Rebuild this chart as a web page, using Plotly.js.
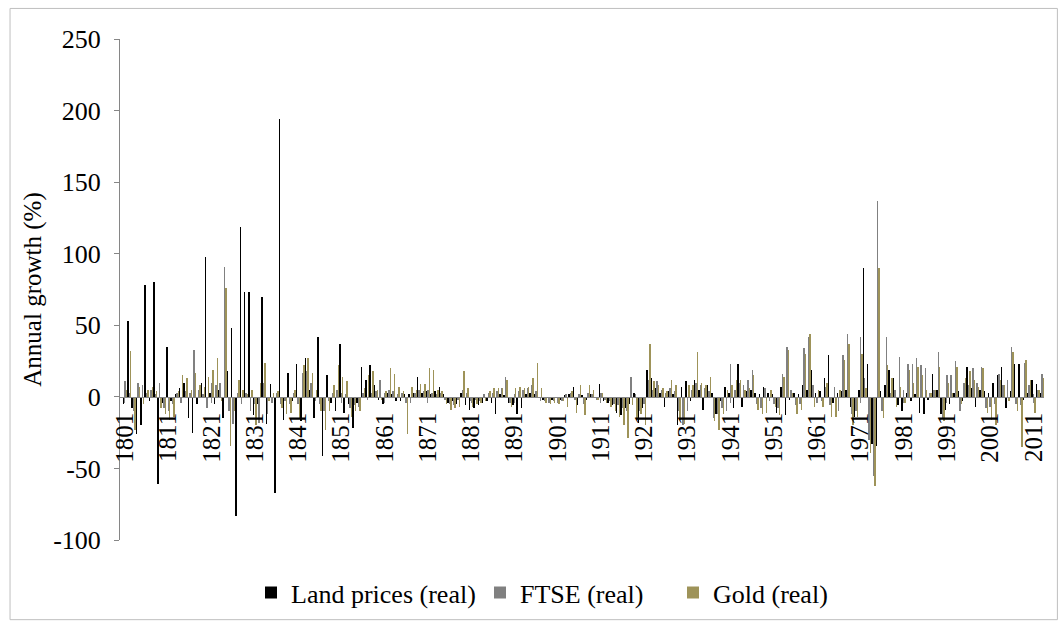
<!DOCTYPE html>
<html>
<head>
<meta charset="utf-8">
<script src="https://cdn.plot.ly/plotly-3.0.1.min.js"></script>
<style>html,body{margin:0;padding:0;background:#fff;}#chart{width:1062px;height:628px;}</style>
</head>
<body>
<div id="chart"></div>
<script>
// Years 1801..2013 (categories)
const firstYear = 1801, lastYear = 2013;
const years = [];
for (let y = firstYear; y <= lastYear; y++) years.push(y);

const tickYears = [1801,1811,1821,1831,1841,1851,1861,1871,1881,1891,1901,1911,1921,1931,1941,1951,1961,1971,1981,1991,2001,2011];
const tickLabels = ["1801","1811","1821","1831","1841","1851","1861","1871","1881","1891","1901","1911","1921","1931","1941","1951","1961","1971","1981","1991","2001","2011"];

const landPrices = [
  -5, 53, -8, -26, -20, 78, -3, 80, -61, -4,
  35, -3, 2, 6, 10, -15, -25, -5, 10, 98,
  3, -5, 5, -15, 18, 48, -83, 119, 73, 73,
  -13, -5, 70, -19, 9, -67, 194, -16, 17, -3,
  23, -17, 27, 5, -15, 42, -41, 15, -4, -10,
  37, -11, -5, -22, -4, 21, 12, 22, 8, -2,
  -5, 3, 2, -3, -3, 2, 2, 3, 14, 3,
  4, 2, 4, 7, 2, -4, -3, -5, 3, -6,
  -9, -8, -6, -4, -3, -4, -12, 2, 1, -4,
  -6, -12, -8, 2, 3, 2, -1, -2, -1, -2,
  -1, -2, 1, 2, 7, -6, 1, -2, 2, -1,
  9, -3, -4, -6, -11, -13, -8, -5, 3, -18,
  -8, 19, 13, 6, 3, -7, 4, 2, -20, 7,
  11, -3, 12, 5, -9, 8, 3, -12, -3, 7,
  3, -8, 23, -7, 4, 5, 3, 2, 7, 3,
  2, -11, 7, -13, -2, 3, 2, 8, 5, 19,
  3, 4, 13, 29, -4, 3, 4, 5, -7, -14,
  5, 90, 23, -33, -34, 4, 8, 19, 13, -6,
  -10, 3, -3, 2, -11, -12, -2, 16, 5, -12,
  -9, -5, 3, 4, -3, 21, 6, -7, 5, 4,
  3, 10, 15, 21, -8, 4, 23, 23, -2, 3,
  12, 9, 3
];

const ftse = [
  11, 3, -10, 10, 8, 3, 5, 2, 10, -8,
  -10, -5, 3, -4, 4, 3, 33, 5, 2, -8,
  10, 8, 10, 91, -10, -19, 3, -5, 3, -10,
  -5, -18, 10, -12, -4, 3, -5, -3, -5, 3,
  -5, 17, 18, 10, -3, -5, -10, -3, 3, 5,
  3, 2, -8, -6, -7, 3, -2, 3, 4, 12,
  3, 5, 4, 2, 3, -4, -4, 3, 5, 4,
  5, 3, 2, 3, -2, -5, -6, -2, 5, 3,
  -3, -2, -3, 2, 3, 3, 4, 6, 14, -4,
  2, 4, 5, 6, 8, 4, -3, -3, -4, -3,
  -4, -3, 2, 3, -2, 2, -5, 3, 2, -2,
  3, -2, -3, -5, -6, -8, -10, 14, 2, -10,
  -5, 12, 5, 11, 5, 3, 6, 4, -10, -20,
  -10, 5, 10, 8, 6, 4, -15, -12, -8, -10,
  23, 5, 10, 8, 12, 19, -5, -8, 6, -3,
  -5, -8, 16, 35, 5, -6, -5, 34, 42, 8,
  -4, -3, 7, -6, 7, -10, 29, 44, -12, -10,
  42, 13, -30, -55, 137, -10, 42, 3, 5, 28,
  5, 23, 23, 27, 22, 20, 3, 5, 31, -15,
  15, 15, 25, -10, 10, 8, 20, 10, 21, -8,
  -7, -5, 16, 8, 12, 35, -5, -6, 24, 8,
  2, 5, 16
];

const gold = [
  5, 32, -23, 7, -5, 5, 7, 4, -8, -12,
  -16, -14, 4, 15, 13, 5, 17, 8, 7, 14,
  19, 27, -3, 76, -34, -10, 12, 5, 2, 5,
  -20, 10, 24, -3, 3, 4, -8, -12, -11, 5,
  -15, 22, 27, 17, 5, -10, -23, -10, 8, 22,
  14, 11, -14, -10, -10, 6, 15, 18, 5, -2,
  4, 20, 16, 7, 4, -26, 7, 5, 9, 9,
  20, 19, 5, 4, -5, -9, -8, -7, 18, 6,
  -7, -5, -4, -3, 4, 6, 6, 6, 12, -7,
  6, 7, 6, 7, 13, 24, 6, -4, -5, -4,
  -5, -3, -7, 4, -11, 8, -13, 8, 5, -2,
  3, -4, -7, -10, -14, -20, -29, -6, -15, -12,
  -20, 37, 11, 8, 6, 4, 12, 8, -16, -19,
  8, 8, 31, 10, 8, 14, -17, -23, -12, 5,
  8, 12, 12, 5, 6, 15, -9, -12, -11, 5,
  -7, -13, 14, 33, 3, -12, -9, 30, 44, -7,
  5, -7, 10, -14, -14, 5, 26, 37, -20, -14,
  30, 6, -39, -62, 90, -15, 22, 13, -7, 7,
  -4, 19, 10, 21, 15, 5, 3, 5, 21, -17,
  10, 3, 21, -5, 13, 18, 12, 7, 20, -11,
  -16, -20, 12, 8, -3, 31, -10, -35, 26, 12,
  -11, 5, 13
];

const seriesNames = ["Land prices (real)", "FTSE (real)", "Gold (real)"];
const seriesColors = ["#000000", "#808080", "#9E9359"];
const seriesData = [landPrices, ftse, gold];
const legendIds = ["legend", "legend2", "legend3"];

const yTicks = [-100, -50, 0, 50, 100, 150, 200, 250];

const FONT = "Liberation Serif, Times New Roman, serif";

const traces = seriesData.map((vals, i) => ({
  type: "bar",
  name: seriesNames[i],
  x: years,
  y: vals,
  legend: legendIds[i],
  marker: {color: seriesColors[i], line: {width: 0}},
  hoverinfo: "x+y+name"
}));

const yMin = -100, yMax = 250;

function legendAt(xp) {
  return {
    orientation: "h",
    x: xp, xanchor: "left",
    y: -0.105, yanchor: "middle",
    font: {family: FONT, size: 26, color: "#000000"},
    bgcolor: "rgba(0,0,0,0)",
    itemclick: false
  };
}

const layout = {
  width: 1062,
  height: 628,
  margin: {l: 120, r: 18, t: 39, b: 83},
  paper_bgcolor: "#ffffff",
  plot_bgcolor: "rgba(0,0,0,0)",
  font: {family: FONT, size: 25, color: "#000000"},
  barmode: "group",
  bargap: 0,
  bargroupgap: 0,
  showlegend: true,
  legend: legendAt(0.1418),
  legend2: legendAt(0.3896),
  legend3: legendAt(0.5985),
  xaxis: {
    range: [1799.85, 2013.45],
    tickmode: "array",
    tickvals: tickYears,
    ticktext: tickLabels,
    tickangle: -90,
    ticks: "outside",
    ticklen: 5,
    tickcolor: "#868686",
    showline: true,
    linecolor: "#868686",
    linewidth: 1,
    showgrid: false,
    zeroline: false,
    anchor: "free",
    position: (0 - yMin) / (yMax - yMin),
    tickfont: {family: FONT, size: 25, color: "#000000"}
  },
  yaxis: {
    range: [yMin, yMax],
    tickmode: "array",
    tickvals: yTicks,
    ticktext: yTicks.map(String),
    ticks: "outside",
    ticklen: 5,
    tickcolor: "#868686",
    ticklabelstandoff: 8,
    showline: true,
    linecolor: "#868686",
    linewidth: 1,
    showgrid: false,
    zeroline: false,
    tickfont: {family: FONT, size: 26, color: "#000000"},
    title: {text: "Annual growth (%)", font: {family: FONT, size: 25, color: "#000000"}, standoff: 4}
  },
  shapes: [{
    type: "rect", xref: "paper", yref: "paper",
    x0: -0.119, x1: 1.0145, y0: -0.159, y1: 1.061,
    line: {color: "#BFBFBF", width: 1}, fillcolor: "rgba(0,0,0,0)", layer: "below"
  }]
};

Plotly.newPlot("chart", traces, layout, {staticPlot: true, displayModeBar: false});
</script>
</body>
</html>
